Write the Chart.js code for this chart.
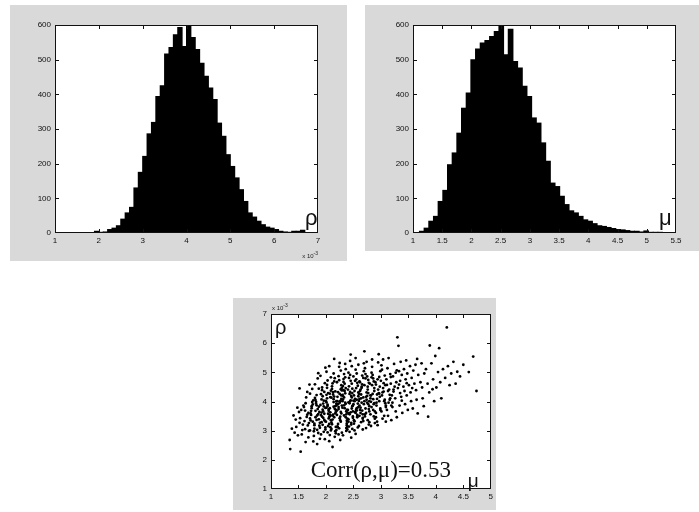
<!DOCTYPE html>
<html lang="en">
<head>
  <meta charset="UTF-8">
  <title>rho / mu histograms and scatter</title>
  <script src="https://cdn.jsdelivr.net/npm/chart.js@4.4.3/dist/chart.umd.min.js"></script>
  <style>
    html, body { margin: 0; padding: 0; background: #fff; }
    body { width: 699px; height: 512px; position: relative; overflow: hidden; }
    .panel { position: absolute; background: #d9d9d9; }
    .panel canvas { position: absolute; left: 0; top: 0; }
  </style>
</head>
<body>
  <div class="panel" style="left:10px;top:5px;width:337px;height:256px"><canvas id="c1" width="337" height="256"></canvas></div>
  <div class="panel" style="left:365px;top:5px;width:334px;height:246px"><canvas id="c2" width="334" height="246"></canvas></div>
  <div class="panel" style="left:233px;top:298px;width:263px;height:212px"><canvas id="c3" width="263" height="209"></canvas></div>

  <script>
    // histogram of rho (x 10^-3), bins of 0.1 starting at 1.9
    const rhoBinStart = 1.9;
    const rhoBinWidth = 0.1;
    const rhoCounts = [5, 2, 3, 10, 14, 21, 40, 58, 74, 130, 175, 221, 286, 319, 394, 425, 516, 535, 572, 593,
      538, 600, 564, 529, 490, 452, 418, 385, 317, 279, 226, 192, 159, 125, 91, 58, 46, 34, 24, 17,
      14, 10, 5, 3, 2, 5, 5, 8];

    // histogram of mu, bins of 0.08 starting at 1.11
    const muBinStart = 1.11;
    const muBinWidth = 0.08;
    const muCounts = [5, 14, 34, 48, 91, 123, 197, 231, 288, 360, 404, 500, 531, 548, 555, 567, 581, 596, 514, 588,
      495, 476, 423, 394, 332, 317, 260, 207, 144, 134, 106, 82, 64, 58, 48, 38, 34, 27, 21, 19,
      16, 13, 10, 9, 7, 5, 5, 3, 6, 2, 2, 2];

    const histYMax = 600;

    // scatter: [mu, rho (x 10^-3)]
    const scatterPoints = [
      [1.34,2.68],[1.35,2.37],[1.38,3.07],
      [1.41,3.52],[1.46,3.13],[1.43,2.93],[1.48,3.79],[1.45,3.38],[1.49,2.84],
      [1.52,4.45],[1.54,2.28],[1.58,3.21],[1.51,3.64],[1.56,2.87],[1.59,3.86],[1.53,3.43],[1.57,3.02],[1.55,3.71],[1.52,3.27],
      [1.63,3.94],[1.68,2.77],[1.61,3.33],[1.66,3.55],[1.64,4.14],[1.69,2.99],[1.62,3.69],[1.67,3.18],[1.65,3.47],[1.6,3.81],[1.68,3.61],[1.63,2.61],[1.66,4.33],[1.69,3.26],[1.62,3.05],
      [1.76,3.31],[1.71,4.27],[1.78,2.82],[1.72,3.59],[1.75,3.98],[1.79,3.07],[1.73,3.54],[1.77,2.63],[1.74,3.77],[1.7,4.58],[1.79,3.19],[1.76,3.9],[1.71,3.42],[1.77,4.04],[1.73,3.68],[1.78,2.98],[1.72,3.35],[1.75,4.43],[1.74,3.84],[1.79,3.24],[1.71,3.01],
      [1.84,3.03],[1.81,3.68],[1.87,4.44],[1.83,3.37],[1.89,2.72],[1.82,3.93],[1.86,3.57],[1.8,4.12],[1.88,3.17],[1.85,4.79],[1.81,3.46],[1.87,3.82],[1.84,2.54],[1.88,3.64],[1.83,4.22],[1.89,3.27],[1.82,3.99],[1.86,2.92],[1.8,4.59],[1.85,3.74],[1.87,3.39],[1.81,4.05],[1.89,3.1],[1.84,3.52],[1.86,4.97],[1.83,3.87],
      [1.93,3.48],[1.97,4.33],[1.91,2.87],[1.99,3.78],[1.94,3.2],[1.96,4.03],[1.92,3.62],[1.98,2.71],[1.95,3.93],[1.9,4.88],[1.97,3.37],[1.93,4.48],[1.99,3.04],[1.91,3.53],[1.96,3.83],[1.94,4.18],[1.92,3.29],[1.98,4.63],[1.95,3.66],[1.99,3.11],[1.91,4.25],[1.97,3.58],[1.93,4.39],[1.96,2.96],[1.94,3.72],[1.98,3.33],[1.92,4.07],[1.99,5.16],[1.95,3.44],[1.9,3.88],
      [2.04,3.58],[2.01,4.23],[2.08,3.12],[2.03,3.85],[2.06,5.21],[2.09,3.36],[2.02,4.47],[2.07,2.85],[2.05,3.68],[2.0,4.02],[2.08,3.51],[2.03,4.72],[2.06,3.23],[2.01,3.97],[2.09,3.01],[2.04,4.29],[2.07,3.77],[2.02,4.11],[2.05,3.42],[2.08,3.63],[2.01,5.02],[2.06,2.64],[2.03,3.89],[2.09,4.37],[2.04,3.16],[2.07,3.54],[2.02,4.57],[2.05,3.73],[2.0,3.31],[2.08,4.15],[2.06,3.47],[2.03,2.94],[2.09,4.83],[2.01,3.79],[2.07,4.27],
      [2.14,3.82],[2.12,2.44],[2.17,4.35],[2.11,3.22],[2.19,4.01],[2.13,3.55],[2.16,4.8],[2.1,3.06],[2.18,3.71],[2.15,4.17],[2.12,3.38],[2.15,5.46],[2.19,3.93],[2.11,4.52],[2.17,2.98],[2.13,4.24],[2.18,3.64],[2.14,4.08],[2.16,2.79],[2.1,3.28],[2.19,3.87],[2.12,4.62],[2.15,3.46],[2.17,3.59],[2.11,4.43],[2.18,3.13],[2.14,3.98],[2.16,3.75],[2.13,4.32],[2.19,3.02],[2.1,4.13],[2.17,3.84],[2.15,4.69],[2.12,3.52],[2.18,2.91],[2.14,4.96],
      [2.23,3.74],[2.27,4.42],[2.21,3.15],[2.28,4.09],[2.24,5.19],[2.26,3.48],[2.2,4.66],[2.29,2.93],[2.22,3.91],[2.25,4.26],[2.28,3.59],[2.21,4.01],[2.27,3.31],[2.23,4.87],[2.26,2.68],[2.29,3.86],[2.22,4.32],[2.25,3.43],[2.28,4.56],[2.2,3.69],[2.24,3.08],[2.27,5.06],[2.21,4.16],[2.26,3.36],[2.23,3.81],[2.29,4.47],[2.25,3.96],[2.22,3.23],[2.27,3.64],[2.24,4.73],[2.2,3.54],[2.28,4.21],[2.23,2.87],[2.26,4.02],[2.21,3.12],[2.29,4.38],[2.25,5.32],
      [2.36,3.92],[2.31,4.53],[2.38,3.25],[2.33,4.14],[2.35,5.29],[2.39,3.62],[2.32,4.77],[2.37,2.99],[2.3,4.01],[2.34,4.36],[2.38,3.71],[2.31,2.84],[2.36,3.46],[2.33,4.94],[2.39,3.14],[2.35,3.96],[2.32,4.39],[2.37,3.56],[2.34,4.61],[2.3,3.79],[2.38,3.34],[2.36,5.11],[2.31,4.19],[2.39,3.04],[2.33,3.87],[2.35,4.28],[2.37,3.66],[2.32,4.67],[2.34,3.77],[2.39,3.41],[2.31,4.07],[2.36,4.46],[2.33,3.52],[2.38,3.19],[2.35,4.83],[2.3,4.23],[2.37,3.09],
      [2.43,3.94],[2.47,4.61],[2.41,3.31],[2.46,4.19],[2.44,5.39],[2.49,3.66],[2.42,4.81],[2.48,3.06],[2.45,4.04],[2.4,4.41],[2.47,3.76],[2.43,2.96],[2.49,3.49],[2.41,4.99],[2.46,3.21],[2.44,4.01],[2.48,4.44],[2.42,3.59],[2.45,4.71],[2.49,3.86],[2.41,3.39],[2.47,5.21],[2.43,4.26],[2.46,2.76],[2.4,3.71],[2.44,4.33],[2.48,3.84],[2.42,4.52],[2.45,3.63],[2.49,3.44],[2.41,3.97],[2.47,4.14],[2.43,3.56],[2.46,3.27],[2.44,4.91],[2.48,4.29],[2.42,3.14],[2.45,5.61],
      [2.52,4.01],[2.57,4.64],[2.51,3.36],[2.59,4.31],[2.54,5.49],[2.56,3.69],[2.5,4.86],[2.58,3.11],[2.53,4.09],[2.55,4.46],[2.59,3.81],[2.52,3.01],[2.57,3.54],[2.54,5.09],[2.51,3.24],[2.56,4.06],[2.58,4.54],[2.53,3.64],[2.55,4.76],[2.5,3.91],[2.57,3.46],[2.59,5.26],[2.52,4.36],[2.54,2.89],[2.56,3.77],[2.51,4.21],[2.58,3.93],[2.53,4.71],[2.55,3.72],[2.57,3.49],[2.5,4.03],[2.59,4.18],[2.54,3.61],[2.52,3.32],[2.56,4.96],
      [2.64,4.11],[2.61,4.69],[2.67,3.41],[2.62,4.36],[2.69,5.31],[2.63,3.79],[2.66,4.89],[2.6,3.16],[2.68,4.14],[2.65,4.51],[2.61,3.86],[2.67,3.04],[2.63,3.61],[2.69,5.04],[2.64,3.29],[2.6,4.02],[2.66,4.59],[2.62,3.71],[2.68,4.81],[2.65,3.96],[2.61,3.51],[2.7,5.72],[2.63,4.41],[2.67,3.56],[2.64,4.24],[2.69,3.91],[2.62,4.66],[2.66,3.69],[2.6,4.26],[2.68,3.33],[2.65,4.47],[2.61,4.09],[2.67,3.44],
      [2.73,4.16],[2.77,4.74],[2.71,3.49],[2.76,4.41],[2.74,5.36],[2.79,3.84],[2.72,4.94],[2.78,3.21],[2.75,4.19],[2.7,4.56],[2.77,3.91],[2.73,3.09],[2.79,3.66],[2.71,5.14],[2.76,3.36],[2.74,4.06],[2.78,4.64],[2.72,3.76],[2.75,4.86],[2.79,4.01],[2.71,3.56],[2.77,4.29],[2.73,3.61],[2.76,4.51],[2.7,4.01],[2.74,4.31],[2.78,3.74],[2.72,4.79],[2.75,3.96],[2.79,3.29],
      [2.82,4.21],[2.86,4.79],[2.81,3.56],[2.88,4.46],[2.84,5.44],[2.87,3.91],[2.83,4.99],[2.89,3.26],[2.85,4.26],[2.8,4.61],[2.88,3.94],[2.82,3.16],[2.86,3.71],[2.84,5.19],[2.89,3.41],[2.81,4.11],[2.87,4.69],[2.83,3.81],[2.85,4.91],[2.88,4.36],[2.82,3.99],[2.86,4.08],[2.84,4.56],[2.89,3.66],[2.81,4.21],[2.87,3.49],[2.83,4.83],
      [2.93,4.24],[2.97,4.84],[2.91,3.61],[2.98,4.51],[2.95,5.34],[2.92,3.96],[2.99,5.04],[2.94,3.19],[2.96,4.29],[2.9,4.66],[2.97,4.01],[2.93,3.31],[2.99,3.76],[2.96,5.62],[2.91,3.46],[2.98,4.16],[2.94,4.76],[2.92,3.86],[2.95,4.41],[2.99,3.71],[2.91,4.58],[2.97,4.27],[2.93,4.09],
      [3.03,4.31],[3.07,4.89],[3.01,3.66],[3.08,4.56],[3.04,5.44],[3.06,4.01],[3.02,5.09],[3.09,3.31],[3.05,4.34],[3.0,4.71],[3.07,4.06],[3.03,3.41],[3.09,3.81],[3.01,5.24],[3.06,3.51],[3.04,4.46],[3.08,3.94],[3.02,4.21],[3.05,4.63],[3.09,3.86],
      [3.13,4.36],[3.17,4.94],[3.11,3.71],[3.18,4.61],[3.14,5.49],[3.16,4.06],[3.12,5.14],[3.19,3.36],[3.15,4.41],[3.1,4.76],[3.17,4.11],[3.13,3.51],[3.19,3.86],[3.11,4.57],[3.16,4.23],[3.14,3.96],[3.18,4.84],
      [3.23,4.41],[3.27,4.99],[3.21,3.81],[3.28,4.66],[3.24,5.29],[3.26,4.11],[3.22,4.86],[3.29,3.46],[3.25,4.51],[3.2,4.21],[3.27,3.66],[3.23,4.34],[3.29,5.07],[3.21,3.96],
      [3.3,6.2],[3.32,5.91],[3.31,4.46],[3.33,5.04],[3.34,3.86],[3.35,4.71],[3.36,5.36],[3.37,4.16],[3.38,4.91],[3.39,3.61],[3.35,4.29],[3.33,4.58],[3.38,4.03],
      [3.41,4.51],[3.42,5.11],[3.44,3.91],[3.45,4.76],[3.46,5.41],[3.47,4.21],[3.48,4.96],[3.49,3.71],[3.43,4.36],[3.47,4.63],
      [3.51,4.56],[3.53,5.21],[3.55,4.01],[3.56,4.81],[3.58,3.76],[3.59,5.06],[3.54,4.31],[3.57,4.46],
      [3.61,4.61],[3.63,5.26],[3.65,4.06],[3.67,3.59],[3.68,4.91],[3.66,5.46],[3.64,4.39],
      [3.72,4.66],[3.74,5.31],[3.76,4.11],[3.78,3.84],[3.79,4.96],[3.75,4.48],
      [3.82,5.11],[3.86,3.48],[3.85,4.61],[3.89,5.92],[3.88,4.31],
      [3.92,5.31],[3.95,4.76],[3.97,4.01],[3.99,5.56],[3.94,4.42],
      [4.01,4.48],[4.06,5.83],[4.04,5.01],[4.08,4.66],
      [4.1,4.11],[4.13,5.11],[4.17,4.81],[4.2,6.54],
      [4.22,5.21],[4.25,4.56],[4.28,4.96],
      [4.32,5.36],[4.36,4.61],[4.39,5.02],
      [4.44,4.86],[4.5,5.26],
      [4.6,5.01],[4.68,5.54],[4.74,4.36]
    ];

    const FONT = "'Liberation Sans', Arial, sans-serif";
    const SERIF = "'Liberation Serif', 'Times New Roman', serif";

    function binsToPoints(start, width, counts) {
      return counts.map((c, i) => ({ x: start + (i + 0.5) * width, y: c }));
    }

    // "x 10^-3" exponent note
    function timesTenMinus3(ctx, x, y, align) {
      ctx.fillStyle = '#222';
      ctx.font = '5px ' + FONT;
      const supW = ctx.measureText('-3').width;
      ctx.font = '6px ' + FONT;
      const baseW = ctx.measureText('x 10').width;
      const left = align === 'right' ? x - baseW - supW : x;
      ctx.textAlign = 'left';
      ctx.textBaseline = 'alphabetic';
      ctx.fillText('x 10', left, y);
      ctx.font = '5px ' + FONT;
      ctx.fillText('-3', left + baseW, y - 3);
    }

    // white plot area, black box, inward tick marks on all four sides, extra text
    function framePlugin(drawText) {
      return {
        id: 'frame',
        beforeDraw(chart) {
          const { ctx, chartArea: a } = chart;
          ctx.save();
          ctx.fillStyle = '#fff';
          ctx.fillRect(a.left, a.top, a.right - a.left, a.bottom - a.top);
          ctx.restore();
        },
        afterDraw(chart) {
          const { ctx, chartArea: a, scales } = chart;
          const L = Math.round(a.left), R = Math.round(a.right) - 1;
          const T = Math.round(a.top), B = Math.round(a.bottom) - 1;
          ctx.save();
          ctx.fillStyle = '#111';
          // box
          ctx.fillRect(L, T, R - L + 1, 1);
          ctx.fillRect(L, B, R - L + 1, 1);
          ctx.fillRect(L, T, 1, B - T + 1);
          ctx.fillRect(R, T, 1, B - T + 1);
          // inward ticks
          scales.x.ticks.forEach(t => {
            const px = Math.min(R, Math.round(scales.x.getPixelForValue(t.value)));
            ctx.fillRect(px, B - 3, 1, 3);
            ctx.fillRect(px, T + 1, 1, 3);
          });
          scales.y.ticks.forEach(t => {
            const py = Math.min(B, Math.round(scales.y.getPixelForValue(t.value)));
            ctx.fillRect(L + 1, py, 3, 1);
            ctx.fillRect(R - 3, py, 3, 1);
          });
          drawText(ctx, a);
          ctx.restore();
        }
      };
    }

    const tickText = v => String(+v.toFixed(1));

    function axes(xMin, xMax, xStep, yMin, yMax, yStep, yWidth, xHeight) {
      const tickFont = { family: FONT, size: 8 };
      return {
        x: {
          type: 'linear', min: xMin, max: xMax, offset: false,
          grid: { display: false, drawTicks: false }, border: { display: false },
          ticks: { stepSize: xStep, padding: 3, color: '#111', font: tickFont, maxRotation: 0, autoSkip: false, callback: tickText },
          afterFit: s => { s.height = xHeight; }
        },
        y: {
          type: 'linear', min: yMin, max: yMax,
          grid: { display: false, drawTicks: false }, border: { display: false },
          ticks: { stepSize: yStep, padding: 4, color: '#111', font: tickFont, callback: tickText },
          afterFit: s => { s.width = yWidth; }
        }
      };
    }

    const common = {
      responsive: false,
      animation: false,
      plugins: { legend: { display: false }, tooltip: { enabled: false } }
    };

    // rho histogram
    new Chart(document.getElementById('c1'), {
      type: 'bar',
      data: {
        datasets: [{
          data: binsToPoints(rhoBinStart, rhoBinWidth, rhoCounts),
          backgroundColor: '#000', borderWidth: 0,
          barPercentage: 1, categoryPercentage: 1, inflateAmount: 0.5
        }]
      },
      options: {
        ...common,
        layout: { padding: { left: 0, top: 20, right: 29, bottom: 8 } },
        scales: axes(1, 7, 1, 0, histYMax, 100, 45, 20)
      },
      plugins: [framePlugin((ctx, a) => {
        ctx.fillStyle = '#111';
        ctx.font = '22px ' + FONT;
        ctx.textAlign = 'left';
        ctx.fillText('ρ', a.right - 13, a.bottom - 8);
        timesTenMinus3(ctx, a.right, a.bottom + 25, 'right');
      })]
    });

    // mu histogram
    new Chart(document.getElementById('c2'), {
      type: 'bar',
      data: {
        datasets: [{
          data: binsToPoints(muBinStart, muBinWidth, muCounts),
          backgroundColor: '#000', borderWidth: 0,
          barPercentage: 1, categoryPercentage: 1, inflateAmount: 0.5
        }]
      },
      options: {
        ...common,
        layout: { padding: { left: 0, top: 20, right: 23, bottom: 4 } },
        scales: axes(1, 5.5, 0.5, 0, histYMax, 100, 48, 14)
      },
      plugins: [framePlugin((ctx, a) => {
        ctx.fillStyle = '#111';
        ctx.font = '22px ' + FONT;
        ctx.textAlign = 'left';
        ctx.fillText('μ', a.right - 17, a.bottom - 8);
      })]
    });

    // scatter rho vs mu
    new Chart(document.getElementById('c3'), {
      type: 'scatter',
      data: {
        datasets: [{
          data: scatterPoints.map(p => ({ x: p[0], y: p[1] })),
          backgroundColor: '#000', borderWidth: 0,
          pointRadius: 1.4, pointHoverRadius: 1.4
        }]
      },
      options: {
        ...common,
        layout: { padding: { left: 0, top: 16, right: 3, bottom: 4 } },
        scales: axes(1, 5, 0.5, 1, 7, 1, 38, 14)
      },
      plugins: [framePlugin((ctx, a) => {
        ctx.fillStyle = '#111';
        ctx.textAlign = 'left';
        ctx.font = '20px ' + FONT;
        ctx.fillText('ρ', a.left + 4, a.top + 20);
        ctx.font = '19px ' + FONT;
        ctx.fillText('μ', a.right - 23, a.bottom - 2);
        ctx.font = '23px ' + SERIF;
        ctx.textAlign = 'center';
        ctx.fillText('Corr(ρ,μ)=0.53', (a.left + a.right) / 2, a.bottom - 12);
        timesTenMinus3(ctx, a.left + 1, a.top - 4, 'left');
      })]
    });
  </script>
</body>
</html>
